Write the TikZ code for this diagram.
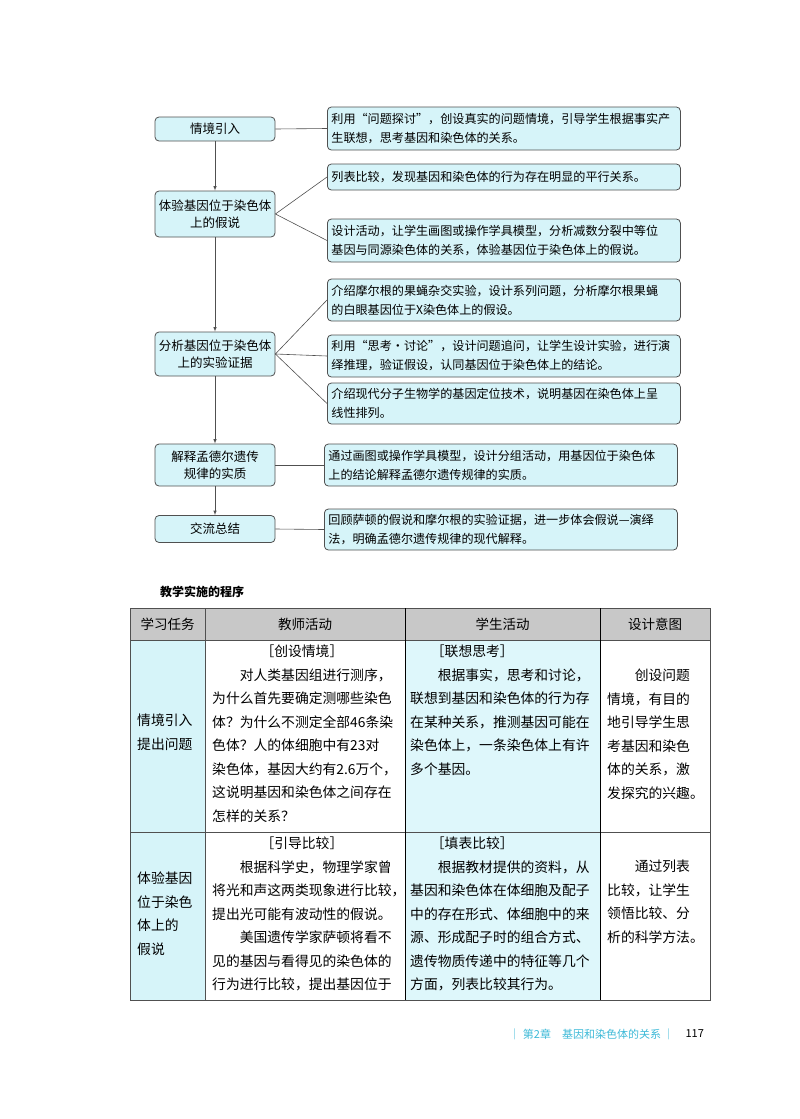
\documentclass[tikz,border=0pt]{standalone}
\usepackage{fontspec}
\setmainfont{Noto Sans CJK SC}
\usetikzlibrary{arrows}
\definecolor{boxcyan}{RGB}{214,244,249}
\definecolor{cellcyan}{RGB}{222,247,251}
\definecolor{headgray}{RGB}{200,200,200}
\definecolor{footcyan}{RGB}{60,185,215}
\definecolor{edgegray}{RGB}{80,80,80}

\begin{document}
\begin{tikzpicture}[x=1pt,y=-1pt,
  stage/.style={rounded corners=4pt,fill=boxcyan,draw=edgegray,thick,minimum width=120pt,
    align=center,font=\fontsize{12.5}{17}\selectfont,inner sep=2pt},
  note/.style={rounded corners=4pt,fill=boxcyan,draw=edgegray,thick,minimum width=353pt,
    text width=345pt,align=left,font=\fontsize{12.1}{19}\selectfont,inner sep=3pt,anchor=west},
  flow/.style={->,>=latex,semithick,edgegray},
  link/.style={semithick,edgegray},
  cell/.style={anchor=north west,inner sep=0pt,align=left,font=\fontsize{13.8}{23.5}\selectfont},
  every node/.style={align=center}]
\useasboundingbox (0,0) rectangle (800,1119);

% Flow of the lesson, left column
\node[stage,minimum height=24pt] (intro) at (215,129) {情境引入};
\node[stage,minimum height=46pt] (hypo) at (215,214) {体验基因位于染色体\\上的假说};
\node[stage,minimum height=44pt] (evid) at (215,354) {分析基因位于染色体\\上的实验证据};
\node[stage,minimum height=42pt] (mendel) at (215,465) {解释孟德尔遗传\\规律的实质};
\node[stage,minimum height=27pt] (sum) at (215,529) {交流总结};

% Notes on the right
\node[note,minimum height=43pt] (n1) at (327,128.5) {利用“问题探讨”，创设真实的问题情境，引导学生根据事实产\\生联想，思考基因和染色体的关系。};
\node[note,minimum height=26pt] (n2) at (327,177) {列表比较，发现基因和染色体的行为存在明显的平行关系。};
\node[note,minimum height=43pt] (n3) at (327,240.5) {设计活动，让学生画图或操作学具模型，分析减数分裂中等位\\基因与同源染色体的关系，体验基因位于染色体上的假说。};
\node[note,minimum height=42pt] (n4) at (327,300) {介绍摩尔根的果蝇杂交实验，设计系列问题，分析摩尔根果蝇\\的白眼基因位于X染色体上的假设。};
\node[note,minimum height=42pt] (n5) at (327,356) {利用“思考・讨论”，设计问题追问，让学生设计实验，进行演\\绎推理，验证假设，认同基因位于染色体上的结论。};
\node[note,minimum height=41pt] (n6) at (327,403.5) {介绍现代分子生物学的基因定位技术，说明基因在染色体上呈\\线性排列。};
\node[note,minimum height=42pt] (n7) at (324,465) {通过画图或操作学具模型，设计分组活动，用基因位于染色体\\上的结论解释孟德尔遗传规律的实质。};
\node[note,minimum height=41pt] (n8) at (324,529.5) {回顾萨顿的假说和摩尔根的实验证据，进一步体会假说—演绎\\法，明确孟德尔遗传规律的现代解释。};

\draw[flow] (intro) -- (hypo);
\draw[flow] (hypo) -- (evid);
\draw[flow] (evid) -- (mendel);
\draw[flow] (mendel) -- (sum);
\draw[link] (intro.east) -- (n1.west);
\draw[link] (hypo.east) -- (n2.west);
\draw[link] (hypo.east) -- (n3.west);
\draw[link] (evid.east) -- (n4.west);
\draw[link] (evid.east) -- (n5.west);
\draw[link] (evid.east) -- (n6.west);
\draw[link] (mendel.east) -- (n7.west);
\draw[link] (sum.east) -- (n8.west);

% Table
\node[anchor=west,font=\fontsize{12}{14}\selectfont\bfseries,inner sep=0pt] (title) at (160,592) {教学实施的程序};
\fill[headgray] (130,608) rectangle (710,640);
\fill[boxcyan] (130,640) rectangle (205,1000);
\fill[cellcyan] (405,640) rectangle (600,1000);
\draw[edgegray,semithick] (130,608) rectangle (710,1000);
\draw[edgegray,semithick] (130,640) -- (710,640) (130,832) -- (710,832) (205,608) -- (205,1000);
\draw[black,semithick] (405,608) -- (405,1000) (600,608) -- (600,1000);
\foreach \cx/\txt in {167.5/学习任务,305/教师活动,502.5/学生活动,655/设计意图}
  \node[font=\fontsize{13.5}{16}\selectfont] at (\cx,624) {\txt};

\node[cell] (r1a) at (137,714) {情境引入\\提出问题};
\node[cell] (r1b) at (212,645) {\hspace{3.5em}［创设情境］\\\hspace{2em}对人类基因组进行测序，\\为什么首先要确定测哪些染色\\体？为什么不测定全部46条染\\色体？人的体细胞中有23对\\染色体，基因大约有2.6万个，\\这说明基因和染色体之间存在\\怎样的关系？};
\node[cell] (r1c) at (410,645) {\hspace{1.5em}［联想思考］\\\hspace{2em}根据事实，思考和讨论，\\联想到基因和染色体的行为存\\在某种关系，推测基因可能在\\染色体上，一条染色体上有许\\多个基因。};
\node[cell] (r1d) at (607,669) {\hspace{2em}创设问题\\情境，有目的\\地引导学生思\\考基因和染色\\体的关系，激\\发探究的兴趣。};

\node[cell] (r2a) at (137,872) {体验基因\\位于染色\\体上的\\假说};
\node[cell] (r2b) at (212,837) {\hspace{3.5em}［引导比较］\\\hspace{2em}根据科学史，物理学家曾\\将光和声这两类现象进行比较，\\提出光可能有波动性的假说。\\\hspace{2em}美国遗传学家萨顿将看不\\见的基因与看得见的染色体的\\行为进行比较，提出基因位于};
\node[cell] (r2c) at (410,837) {\hspace{1.5em}［填表比较］\\\hspace{2em}根据教材提供的资料，从\\基因和染色体在体细胞及配子\\中的存在形式、体细胞中的来\\源、形成配子时的组合方式、\\遗传物质传递中的特征等几个\\方面，列表比较其行为。};
\node[cell] (r2d) at (607,860) {\hspace{2em}通过列表\\比较，让学生\\领悟比较、分\\析的科学方法。};

% Footer
\node[anchor=east,text=footcyan,font=\fontsize{11}{13}\selectfont] (chap) at (678,1034) {｜ 第2章\quad 基因和染色体的关系 ｜};
\node[anchor=west,font=\fontsize{11}{13}\selectfont] (page) at (682,1034) {117};
\end{tikzpicture}
\end{document}
